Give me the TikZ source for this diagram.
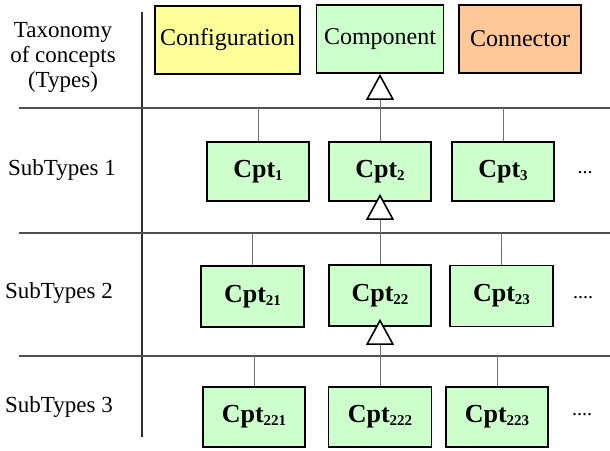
\documentclass[tikz,border=0pt]{standalone}
\usepackage{fontspec}
\setmainfont{Liberation Serif}
\usetikzlibrary{arrows.meta}
\definecolor{cptgreen}{HTML}{CCFFCC}
\definecolor{cfgyellow}{HTML}{FFFF99}
\definecolor{conorange}{HTML}{FFC899}
\definecolor{sepgray}{HTML}{505050}
\definecolor{vgray}{HTML}{303030}
\definecolor{linkgray}{HTML}{707070}
\newcommand\subn[1]{\raisebox{-0.12em}{\fontsize{15}{15}\selectfont #1}}
\begin{document}
\begin{tikzpicture}[x=1pt,y=-1pt,
  box/.style={draw=black, line width=1.8pt, inner sep=0pt, align=center},
  cpt/.style={box, fill=cptgreen, minimum width=102pt, minimum height=60pt, font=\fontsize{26}{28}\selectfont\bfseries},
  topbox/.style={box, minimum height=68pt, font=\fontsize{24}{26}\selectfont},
  lbl/.style={font=\fontsize{23}{25}\selectfont, align=center, inner sep=0pt},
  dots/.style={font=\fontsize{20}{22}\selectfont, inner sep=0pt},
  sep/.style={draw=sepgray, line width=1.5pt},
  link/.style={draw=linkgray, line width=1pt},
  inherit/.style={draw=linkgray, line width=1pt,
    -{Triangle[width=28pt,length=26pt,fill=white,color=black,line width=1.6pt]}},
]
\useasboundingbox (0,0) rectangle (610,450);

% left labels
\node[lbl] (taxo) at (63,57) {Taxonomy\\of concepts\\(Types)};
\node[lbl] (st1) at (62,170) {SubTypes 1};
\node[lbl] (st2) at (59,293) {SubTypes 2};
\node[lbl] (st3) at (59,407) {SubTypes 3};

% separators
\draw[draw=vgray, line width=1.5pt] (142,12) -- (142,437);
\draw[sep] (19,108) -- (610,108);
\draw[sep] (19,233) -- (610,233);
\draw[sep] (19,356) -- (610,356);
\coordinate (j1) at (380,108);
\coordinate (j2) at (380,233);
\coordinate (j3) at (380,356);

% top row
\node[topbox, fill=cfgyellow, minimum width=145pt] (config) at (227.5,40) {Configuration};
\node[topbox, fill=cptgreen, minimum width=127pt] (comp) at (380,39) {Component};
\node[topbox, fill=conorange, minimum width=122pt] (conn) at (520,39) {Connector};

% subtypes 1
\node[cpt, minimum height=59pt] (c1) at (258,171.5) {Cpt\subn{1}};
\node[cpt, minimum height=59pt] (c2) at (380,171.5) {Cpt\subn{2}};
\node[cpt, minimum height=59pt] (c3) at (503,171.5) {Cpt\subn{3}};
\node[dots] (d1) at (585,173) {...};

% subtypes 2
\node[cpt, minimum width=103pt, minimum height=61pt] (c21) at (252.5,296.5) {Cpt\subn{21}};
\node[cpt, minimum height=61pt] (c22) at (380,295.5) {Cpt\subn{22}};
\node[cpt, minimum width=103pt, minimum height=61pt] (c23) at (501.5,296) {Cpt\subn{23}};
\node[dots] (d2) at (583,298) {....};

% subtypes 3
\node[cpt] (c221) at (254,417) {Cpt\subn{221}};
\node[cpt, minimum width=103pt] (c222) at (380,417) {Cpt\subn{222}};
\node[cpt] (c223) at (497,417) {Cpt\subn{223}};
\node[dots] (d3) at (582,415) {....};

% links
\draw[link] (c1.north) -- (c1.north |- j1);
\draw[link] (c2.north) -- (j1);
\draw[link] (c3.north) -- (c3.north |- j1);
\draw[link] (c21.north) -- (c21.north |- j2);
\draw[link] (c22.north) -- (j2);
\draw[link] (c23.north) -- (c23.north |- j2);
\draw[link] (c221.north) -- (c221.north |- j3);
\draw[link] (c222.north) -- (j3);
\draw[link] (c223.north) -- (c223.north |- j3);

% inheritance
\draw[inherit] (j1) -- (comp.south);
\draw[inherit, shorten >=-8pt] (j2) -- (c2.south);
\draw[inherit, shorten >=-8pt] (j3) -- (c22.south);
\end{tikzpicture}
\end{document}
